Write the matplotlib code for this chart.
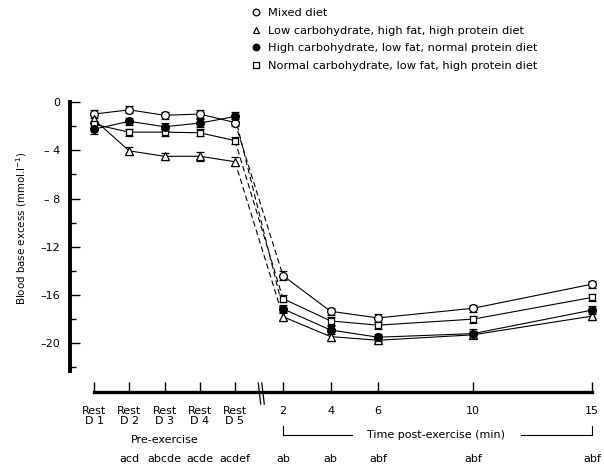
import numpy as np
import matplotlib
matplotlib.use('Agg')
import matplotlib.pyplot as plt
import matplotlib.transforms as mtrans
from matplotlib.lines import Line2D

plt.rcParams['font.family'] = ['DejaVu Sans']

# x categories
pre_labels = ['Rest\nD 1', 'Rest\nD 2', 'Rest\nD 3', 'Rest\nD 4', 'Rest\nD 5']
post_minutes = [2, 4, 6, 10, 15]
pre_sig = ['', 'acd', 'abcde', 'acde', 'acdef']
post_sig = ['ab', 'ab', 'abf', 'abf', 'abf']

diet_names = ['Mixed diet',
              'Low carbohydrate, high fat, high protein diet',
              'High carbohydrate, low fat, normal protein diet',
              'Normal carbohydrate, low fat, high protein diet']

# blood base excess (mmol/l)
mixed_pre = [-1.0, -0.65, -1.1, -1.0, -1.7]
mixed_post = [-14.4, -17.35, -17.9, -17.1, -15.1]
lowcarb_pre = [-1.45, -4.05, -4.5, -4.5, -4.95]
lowcarb_post = [-17.8, -19.45, -19.75, -19.3, -17.75]
highcarb_pre = [-2.25, -1.6, -2.05, -1.75, -1.2]
highcarb_post = [-17.15, -18.9, -19.5, -19.2, -17.25]
normcarb_pre = [-1.85, -2.5, -2.5, -2.55, -3.2]
normcarb_post = [-16.3, -18.15, -18.5, -18.0, -16.2]

# error bars (approx.)
mixed_err = [0.35, 0.3, 0.3, 0.3, 0.3, 0.35, 0.3, 0.3, 0.3, 0.3]
lowcarb_err = [0.35, 0.35, 0.3, 0.35, 0.35, 0.35, 0.35, 0.3, 0.3, 0.35]
highcarb_err = [0.4, 0.3, 0.35, 0.3, 0.4, 0.35, 0.35, 0.3, 0.35, 0.35]
normcarb_err = [0.3, 0.3, 0.3, 0.3, 0.3, 0.3, 0.3, 0.3, 0.3, 0.3]

series = [
    (mixed_pre, mixed_post, mixed_err, 'o', 'white', 5.6),
    (lowcarb_pre, lowcarb_post, lowcarb_err, '^', 'white', 5.6),
    (normcarb_pre, normcarb_post, normcarb_err, 's', 'white', 5.0),
    (highcarb_pre, highcarb_post, highcarb_err, 'o', 'black', 5.6),
]


def post_pos(t):
    # post-exercise minutes on the same x scale as the pre-exercise days
    return 5.362 + (np.asarray(t, dtype=float) - 2) * 0.6743


W, H = 604, 468
fig = plt.figure(figsize=(W / 100, H / 100), dpi=100)
ax = fig.add_axes([70 / W, 97 / H, 530 / W, 269 / H])

pre_x = np.arange(len(pre_labels))
post_x = post_pos(post_minutes)

for pre, post, err, mk, fc, ms in series:
    kw = dict(marker=mk, mfc=fc, mec='black', ms=ms, mew=0.9, color='black',
              lw=0.8, ecolor='black', elinewidth=0.8, capsize=3, capthick=0.8,
              clip_on=False, zorder=3)
    ax.errorbar(pre_x, pre, yerr=err[:5], **kw)
    ax.errorbar(post_x, post, yerr=err[5:], **kw)
    ax.plot([pre_x[-1], post_x[0]], [pre[-1], post[0]], color='black', lw=0.8,
            ls=(0, (5, 3)), zorder=2, clip_on=False)

ax.set_xlim(-0.681, 14.355)
ax.set_ylim(-22.3, 0)

for s in ['top', 'right']:
    ax.spines[s].set_visible(False)
ax.spines['left'].set_linewidth(2.8)
ax.spines['bottom'].set_linewidth(2.4)
ax.spines['bottom'].set_position(('outward', 15))
ax.spines['bottom'].set_bounds(0, post_x[-1])

ax.set_yticks([0, -4, -8, -12, -16, -20])
ax.set_yticklabels(['0', '\u2013 4', '\u2013 8', '\u201312', '\u201316', '\u201320'])
ax.set_yticks([-2, -6, -10, -14, -18, -22], minor=True)
ax.tick_params(axis='y', which='major', direction='in', length=7, width=1,
               labelsize=8, pad=7)
ax.tick_params(axis='y', which='minor', direction='in', length=4.5, width=1)

ax.set_xticks(np.concatenate([pre_x, post_x]))
ax.set_xticklabels(pre_labels + [str(m) for m in post_minutes], linespacing=1.0)
ax.tick_params(axis='x', direction='in', length=7, width=1, labelsize=8, pad=10)

fig.text(22 / W, 1 - 228 / H, 'Blood base excess (mmol.l$^{-1}$)', rotation=90,
         ha='center', va='center', fontsize=7.4)

tr = mtrans.blended_transform_factory(ax.transData, fig.transFigure)

ax.text(2, 1 - 440 / H, 'Pre-exercise', transform=tr, ha='center', va='center',
        fontsize=8)
for x, s in zip(np.concatenate([pre_x, post_x]), pre_sig + post_sig):
    ax.text(x, 1 - 459 / H, s, transform=tr, ha='center', va='center', fontsize=8)

# bracket for post-exercise period
yb, yt = 1 - 435 / H, 1 - 426 / H
for a, b in [(2, 4.9), (12, 15)]:
    ax.add_line(Line2D(post_pos([a, b]), [yb, yb], transform=tr, color='black',
                       lw=0.8, clip_on=False))
for t in [2, 15]:
    ax.add_line(Line2D(post_pos([t, t]), [yb, yt], transform=tr, color='black',
                       lw=0.8, clip_on=False))
ax.text(post_pos(8.45), yb, 'Time post-exercise (min)', transform=tr,
        ha='center', va='center', fontsize=8)

# axis break marks
for bx in [4.69, 4.79]:
    ax.add_line(Line2D([bx - 0.03, bx + 0.04], [1 - 383 / H, 1 - 404 / H],
                       transform=tr, color='black', lw=0.9, clip_on=False))

handles = [Line2D([], [], marker=mk, ls='none', mfc=fc, mec='black', ms=ms * 0.85,
                  mew=0.9)
           for _, _, _, mk, fc, ms in [series[0], series[1], series[3], series[2]]]
fig.legend(handles, diet_names, loc='upper left',
           bbox_to_anchor=(251 / W, 1 - 8 / H), frameon=False, fontsize=8.2,
           handlelength=0.9, handletextpad=0.55, labelspacing=0.67,
           borderpad=0, borderaxespad=0)

fig.savefig('out.png', dpi=100)
